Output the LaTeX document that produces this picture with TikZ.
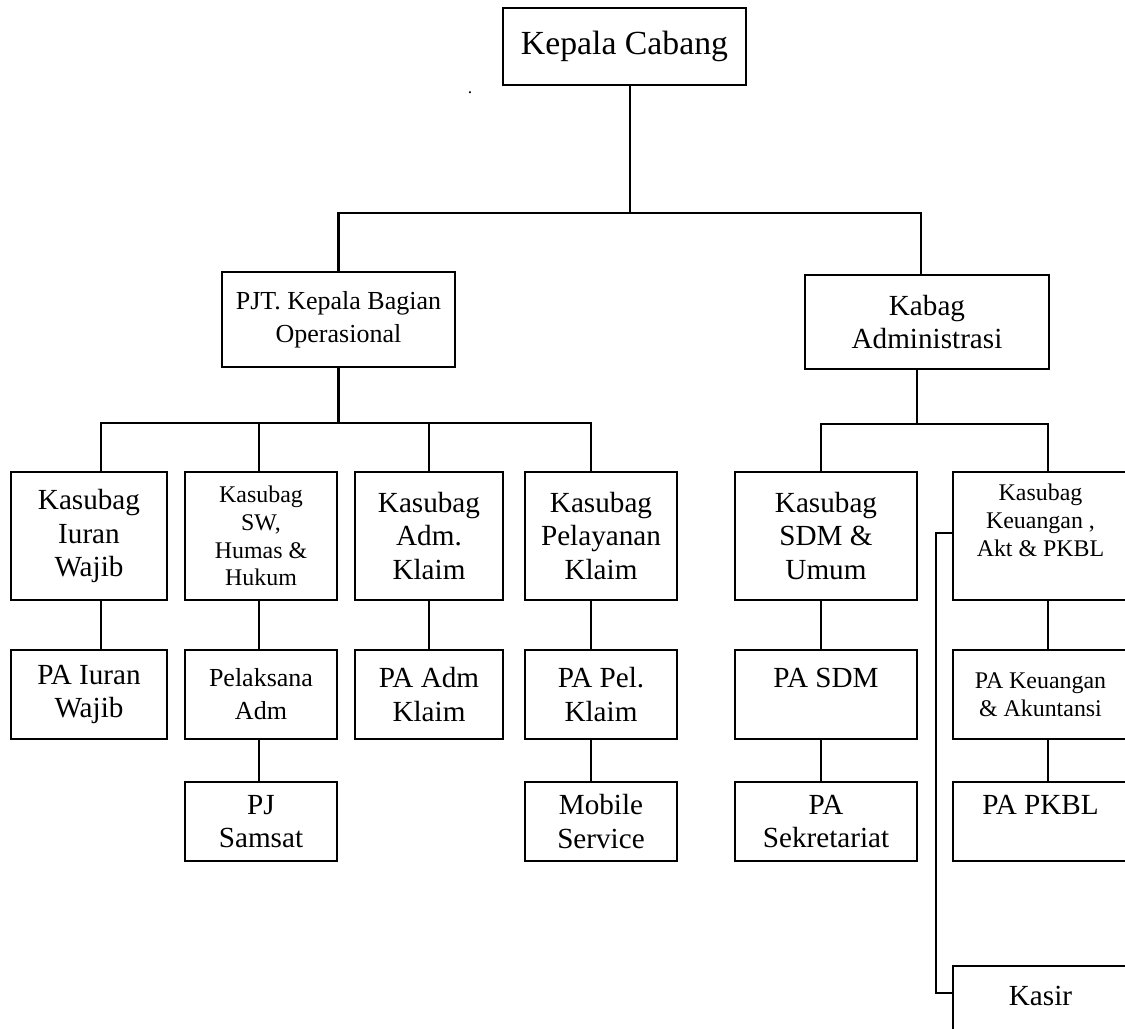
\documentclass[tikz,border=0pt]{standalone}
\usepackage{fontspec}
\setmainfont{Liberation Serif}
\usetikzlibrary{positioning}

\newcommand{\fsbig}{\fontsize{9.6}{11}\selectfont}
\newcommand{\fsnorm}{\fontsize{8.3}{9.6}\selectfont}
\newcommand{\fsmid}{\fontsize{7.4}{9.4}\selectfont}
\newcommand{\fssmall}{\fontsize{6.8}{7.9}\selectfont}

\begin{document}
\begin{tikzpicture}[
    orgbox/.style={draw, line width=0.6pt, align=center, inner sep=1pt, font=\fsnorm},
    rowone/.style={orgbox, minimum height=1.28cm},
    rowtwo/.style={orgbox, minimum height=0.89cm},
    rowthree/.style={orgbox, minimum height=0.79cm},
    link/.style={line width=0.6pt}
  ]
      \useasboundingbox (0,0) rectangle (11.25,-10.29);
      \clip (0,0) rectangle (11.25,-10.29);

      % top levels
      \node[orgbox, font=\fsbig, minimum width=2.43cm, minimum height=0.77cm] (kc) at (6.245,-0.465) {Kepala Cabang};
      \node[font=\tiny] (dot) at (4.70,-0.93) {.};
      \node[orgbox, font=\fsmid, minimum width=2.33cm, minimum height=0.95cm] (pjt) at (3.385,-3.195) {PJT. Kepala Bagian\\Operasional};
      \node[orgbox, minimum width=2.44cm, minimum height=0.94cm] (kabag) at (9.27,-3.22) {Kabag\\Administrasi};

      % kasubag row
      \node[rowone, minimum width=1.56cm] (kiw) at (0.89,-5.36) {Kasubag\\Iuran\\Wajib};
      \node[rowone, font=\fssmall, minimum width=1.52cm] (ksw) at (2.61,-5.36) {Kasubag\\SW,\\Humas \&\\Hukum};
      \node[rowone, minimum width=1.48cm] (kak) at (4.29,-5.36) {Kasubag\\Adm.\\Klaim};
      \node[rowone, minimum width=1.52cm] (kpk) at (6.01,-5.36) {Kasubag\\Pelayanan\\Klaim};
      \node[rowone, minimum width=1.82cm] (ksdm) at (8.26,-5.36) {Kasubag\\SDM \&\\Umum};
      \node[rowone, font=\fssmall, minimum width=1.75cm] (kkeu) at (10.405,-5.36) {Kasubag\\Keuangan ,\\Akt \& PKBL\\[1pt]};

      % pelaksana row
      \node[rowtwo, minimum width=1.56cm] (pai) at (0.89,-6.945) {PA Iuran\\Wajib};
      \node[rowtwo, font=\fsmid, minimum width=1.52cm] (pla) at (2.61,-6.945) {Pelaksana\\Adm};
      \node[rowtwo, minimum width=1.48cm] (paa) at (4.29,-6.945) {PA Adm\\Klaim};
      \node[rowtwo, minimum width=1.52cm] (pap) at (6.01,-6.945) {PA Pel.\\Klaim};
      \node[rowtwo, minimum width=1.82cm] (pasdm) at (8.26,-6.945) {PA SDM\\~};
      \node[rowtwo, font=\fssmall, minimum width=1.75cm] (pakeu) at (10.405,-6.945) {PA Keuangan\\\& Akuntansi};

      % bottom row
      \node[rowthree, minimum width=1.52cm] (pjs) at (2.61,-8.215) {PJ\\Samsat};
      \node[rowthree, minimum width=1.52cm] (mob) at (6.01,-8.215) {Mobile\\Service};
      \node[rowthree, minimum width=1.82cm] (psek) at (8.26,-8.215) {PA\\Sekretariat};
      \node[rowthree, minimum width=1.75cm] (pkbl) at (10.405,-8.215) {PA PKBL\\~};
      \node[orgbox, minimum width=1.75cm, minimum height=0.8cm, text depth=0.2cm] (kasir) at (10.405,-10.06) {Kasir};

      % lines between levels
      \draw[link] ([xshift=0.055cm]kc.south) -- ++(0,-1.27) coordinate (hub);
      \draw[link] (pjt.north) |- (hub) -| ([xshift=-0.06cm]kabag.north);

      \draw[link] (pjt.south) -- ++(0,-0.55) coordinate (opbus);
      \draw[link] ([xshift=0.12cm]kiw.north) |- (opbus) -| ([xshift=-0.10cm]kpk.north);
      \draw[link] ([xshift=-0.02cm]ksw.north) -- ([xshift=-0.02cm]ksw.north |- opbus);
      \draw[link] (kak.north) -- (kak.north |- opbus);

      \draw[link] ([xshift=-0.10cm]kabag.south) -- ++(0,-0.54) coordinate (adbus);
      \draw[link] ([xshift=-0.05cm]ksdm.north) |- (adbus) -| ([xshift=0.075cm]kkeu.north);

      \draw[link] ([xshift=0.12cm]kiw.south) -- ([xshift=0.12cm]pai.north);
      \draw[link] ([xshift=-0.02cm]ksw.south) -- ([xshift=-0.02cm]pla.north);
      \draw[link] (kak.south) -- (paa.north);
      \draw[link] ([xshift=-0.10cm]kpk.south) -- ([xshift=-0.10cm]pap.north);
      \draw[link] ([xshift=-0.05cm]ksdm.south) -- ([xshift=-0.05cm]pasdm.north);
      \draw[link] ([xshift=0.075cm]kkeu.south) -- ([xshift=0.075cm]pakeu.north);

      \draw[link] ([xshift=-0.02cm]pla.south) -- ([xshift=-0.02cm]pjs.north);
      \draw[link] ([xshift=-0.10cm]pap.south) -- ([xshift=-0.10cm]mob.north);
      \draw[link] ([xshift=-0.05cm]pasdm.south) -- ([xshift=-0.05cm]psek.north);
      \draw[link] ([xshift=0.075cm]pakeu.south) -- ([xshift=0.075cm]pkbl.north);

      \draw[link] ([yshift=0.03cm]kkeu.west) -- ++(-0.16,0) |- ([yshift=0.13cm]kasir.west);
    \end{tikzpicture}
\end{document}
